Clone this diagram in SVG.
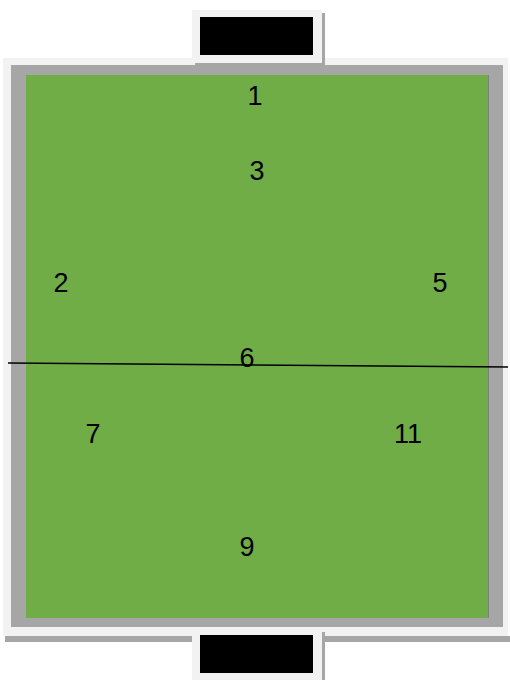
<svg xmlns="http://www.w3.org/2000/svg" width="510" height="680" viewBox="0 0 510 680">
<style>
.lbl{font-family:"Liberation Sans",Arial,sans-serif;font-size:27px;fill:#000;text-anchor:middle}
.shadow{fill:#a6a6a6}
.panel{fill:#f2f2f2}
</style>
<rect width="510" height="680" fill="#ffffff"/>
<g id="field">
<rect class="shadow" x="5" y="636" width="505" height="6"/>
<rect class="panel" x="3" y="58" width="505" height="578"/>
<rect x="11" y="65" width="492" height="562" fill="#a6a6a6"/>
<rect x="26" y="75" width="462" height="543" fill="#70ad47"/>
<line x1="488.5" y1="75" x2="488.5" y2="618" stroke="#7f7f7f" stroke-width="1"/>
</g>
<g id="goal-top">
<rect class="shadow" x="195" y="13" width="130" height="54"/>
<rect class="panel" x="192" y="10" width="130" height="53"/>
<rect x="200" y="17" width="113" height="38" fill="#000"/>
</g>
<g id="goal-bottom">
<rect class="shadow" x="195" y="632" width="130" height="48"/>
<rect class="panel" x="192" y="627" width="130" height="53"/>
<rect x="200" y="635" width="113" height="38" fill="#000"/>
</g>
<g id="connectors">
<line x1="8" y1="363" x2="508" y2="367" stroke="#000" stroke-width="1.5"/>
</g>
<g id="n1"><text class="lbl" x="255" y="105">1</text></g>
<g id="n3"><text class="lbl" x="257" y="180">3</text></g>
<g id="n2"><text class="lbl" x="61" y="292">2</text></g>
<g id="n5"><text class="lbl" x="440" y="292">5</text></g>
<g id="n6"><text class="lbl" x="247" y="367">6</text></g>
<g id="n7"><text class="lbl" x="93" y="443">7</text></g>
<g id="n11"><text class="lbl" x="408" y="443">11</text></g>
<g id="n9"><text class="lbl" x="247" y="556">9</text></g>
</svg>
